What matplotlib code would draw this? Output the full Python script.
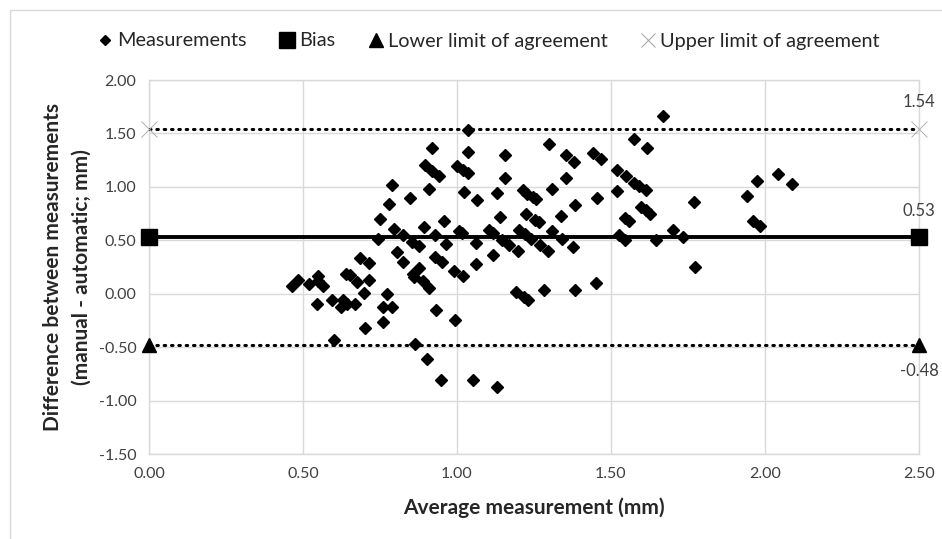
import numpy as np
import matplotlib
matplotlib.use("Agg")
import matplotlib.pyplot as plt
from matplotlib.lines import Line2D
from matplotlib.patches import Rectangle

plt.rcParams['font.family'] = ['Lato', 'DejaVu Sans']

# average measurement (mm) and difference (manual - automatic; mm)
avg = [0.918, 0.896, 0.92, 0.94, 0.79, 0.908, 0.848, 0.78, 0.75, 0.958,
       0.795, 0.893, 0.824, 0.853, 0.875, 0.743, 0.93, 0.965, 0.804, 0.686,
       0.713, 0.825, 0.927, 0.95, 0.878, 0.464, 0.485, 0.52, 0.548, 0.55,
       0.564, 0.547, 0.595, 0.623, 0.63, 0.644, 0.668, 0.60, 0.639, 0.653,
       0.675, 0.697, 0.713, 0.70, 0.76, 0.774, 0.789, 0.76, 0.856, 0.86,
       0.889, 0.908, 0.865, 0.932, 0.903, 0.947, 0.99, 1.019, 1.062, 1.118,
       1.198, 1.295, 1.378, 1.19, 1.216, 1.229, 1.281, 1.383, 1.45, 0.995,
       1.051, 1.129, 1.774, 1.67, 1.035, 1.299, 1.574, 1.616, 1.035, 1.155,
       1.353, 1.381, 1.441, 1.467, 1.001, 1.018, 1.035, 1.155, 1.355, 1.519,
       1.549, 1.576, 1.592, 1.614, 1.52, 1.024, 1.065, 1.129, 1.214, 1.228,
       1.246, 1.257, 1.309, 1.384, 1.453, 1.768, 1.14, 1.224, 1.254, 1.266,
       1.338, 1.546, 1.558, 1.599, 1.614, 1.627, 1.007, 1.016, 1.103, 1.116,
       1.202, 1.221, 1.24, 1.307, 1.342, 1.526, 1.544, 1.647, 1.702, 1.733,
       1.062, 1.146, 1.168, 1.27, 2.042, 2.087, 1.974, 1.943, 1.961, 1.985]
diff = [1.36, 1.20, 1.15, 1.10, 1.02, 0.98, 0.90, 0.836, 0.70, 0.685,
        0.61, 0.62, 0.55, 0.487, 0.443, 0.51, 0.55, 0.468, 0.387, 0.334,
        0.29, 0.30, 0.344, 0.30, 0.24, 0.068, 0.131, 0.087, 0.165, 0.12,
        0.075, -0.094, -0.059, -0.125, -0.06, -0.094, -0.094, -0.437, 0.18, 0.175,
        0.112, 0.006, 0.131, -0.32, -0.12, 0.0, -0.12, -0.265, 0.187, 0.156,
        0.115, 0.053, -0.468, -0.15, -0.61, -0.805, 0.215, 0.162, 0.275, 0.36,
        0.40, 0.40, 0.44, 0.019, -0.034, -0.063, 0.037, 0.037, 0.097, -0.25,
        -0.805, -0.877, 0.246, 1.66, 1.53, 1.40, 1.45, 1.364, 1.33, 1.295,
        1.295, 1.236, 1.32, 1.264, 1.199, 1.161, 1.13, 1.086, 1.086, 1.161,
        1.098, 1.036, 1.011, 0.967, 0.961, 0.952, 0.874, 0.94, 0.974, 0.93,
        0.905, 0.887, 0.983, 0.833, 0.893, 0.858, 0.721, 0.749, 0.693, 0.668,
        0.724, 0.709, 0.684, 0.808, 0.78, 0.746, 0.583, 0.568, 0.593, 0.568,
        0.60, 0.562, 0.515, 0.587, 0.512, 0.55, 0.503, 0.503, 0.593, 0.531,
        0.475, 0.503, 0.459, 0.453, 1.117, 1.024, 1.055, 0.911, 0.677, 0.63]

bias = 0.53
lower = -0.48
upper = 1.54
line_x = [0.0, 2.5]

fig = plt.figure(figsize=(9.42, 5.39), dpi=100)
fig.patches.append(Rectangle((10 / 942, -0.1), 1.2, 1.1 - 10 / 539,
                             transform=fig.transFigure, fill=False,
                             edgecolor='#d9d9d9', linewidth=1))
ax = fig.add_axes([149 / 942, 1 - 454 / 539, 770 / 942, 374 / 539])

dots = (0, (0.5, 1.9))
ax.plot(avg, diff, linestyle='none', marker='D', markersize=5.8,
        color='black', zorder=3)
ax.plot(line_x, [bias, bias], color='black', linewidth=2.8, marker='s',
        markersize=11, zorder=4, clip_on=False)
ax.plot(line_x, [lower, lower], color='black', linewidth=2.2,
        linestyle=dots, dash_capstyle='round', marker='^',
        markersize=10, zorder=4, clip_on=False)
ax.plot(line_x, [upper, upper], color='black', linewidth=2.2,
        linestyle=dots, dash_capstyle='round', zorder=4)
ax.plot(line_x, [upper, upper], linestyle='none', marker='x',
        markersize=11, markeredgewidth=0.7, color='#b0b0b0', zorder=5,
        clip_on=False)

ax.annotate(f"{upper:.2f}", (2.5, upper), xytext=(0, 14),
            textcoords='offset points', ha='center', va='bottom', fontsize=12,
            color='#404040')
ax.annotate(f"{bias:.2f}", (2.5, bias), xytext=(0, 13),
            textcoords='offset points', ha='center', va='bottom', fontsize=12,
            color='#404040')
ax.annotate(f"{lower:.2f}", (2.5, lower), xytext=(0, -13),
            textcoords='offset points', ha='center', va='top', fontsize=12,
            color='#404040')

ax.set_xlim(0, 2.5)
ax.set_ylim(-1.5, 2.0)
ax.set_xticks(np.arange(0, 2.51, 0.5))
ax.set_yticks(np.arange(-1.5, 2.01, 0.5))
ax.xaxis.set_major_formatter(plt.FormatStrFormatter('%.2f'))
ax.yaxis.set_major_formatter(plt.FormatStrFormatter('%.2f'))
ax.tick_params(length=0, labelsize=11.5, labelcolor='#404040', pad=9)
ax.grid(True, color='#d9d9d9', linewidth=1)
ax.set_axisbelow(True)
for sp in ax.spines.values():
    sp.set_color('#d9d9d9')
    sp.set_linewidth(1)

ax.set_xlabel('Average measurement (mm)', fontsize=15, fontweight='bold',
              color='#262626', labelpad=12)
ax.set_ylabel('Difference between measurements\n(manual - automatic; mm)',
              fontsize=15, fontweight='bold', color='#262626', labelpad=5,
              linespacing=1.55)

handles = [
    Line2D([], [], linestyle='none', marker='D', markersize=5, color='black'),
    Line2D([], [], linestyle='none', marker='s', markersize=11, color='black'),
    Line2D([], [], linestyle='none', marker='^', markersize=10, color='black'),
    Line2D([], [], linestyle='none', marker='x', markersize=10,
           markeredgewidth=0.7, color='#a0a0a0'),
]
labels = ['Measurements', 'Bias', 'Lower limit of agreement',
          'Upper limit of agreement']
fig.legend(handles, labels, loc='center', bbox_to_anchor=(0.519, 1 - 41 / 539),
           ncol=4, frameon=False, fontsize=14.3, handlelength=0.7,
           handletextpad=0.25, columnspacing=1.7, labelcolor='#262626')

fig.savefig('out.png', dpi=100)
